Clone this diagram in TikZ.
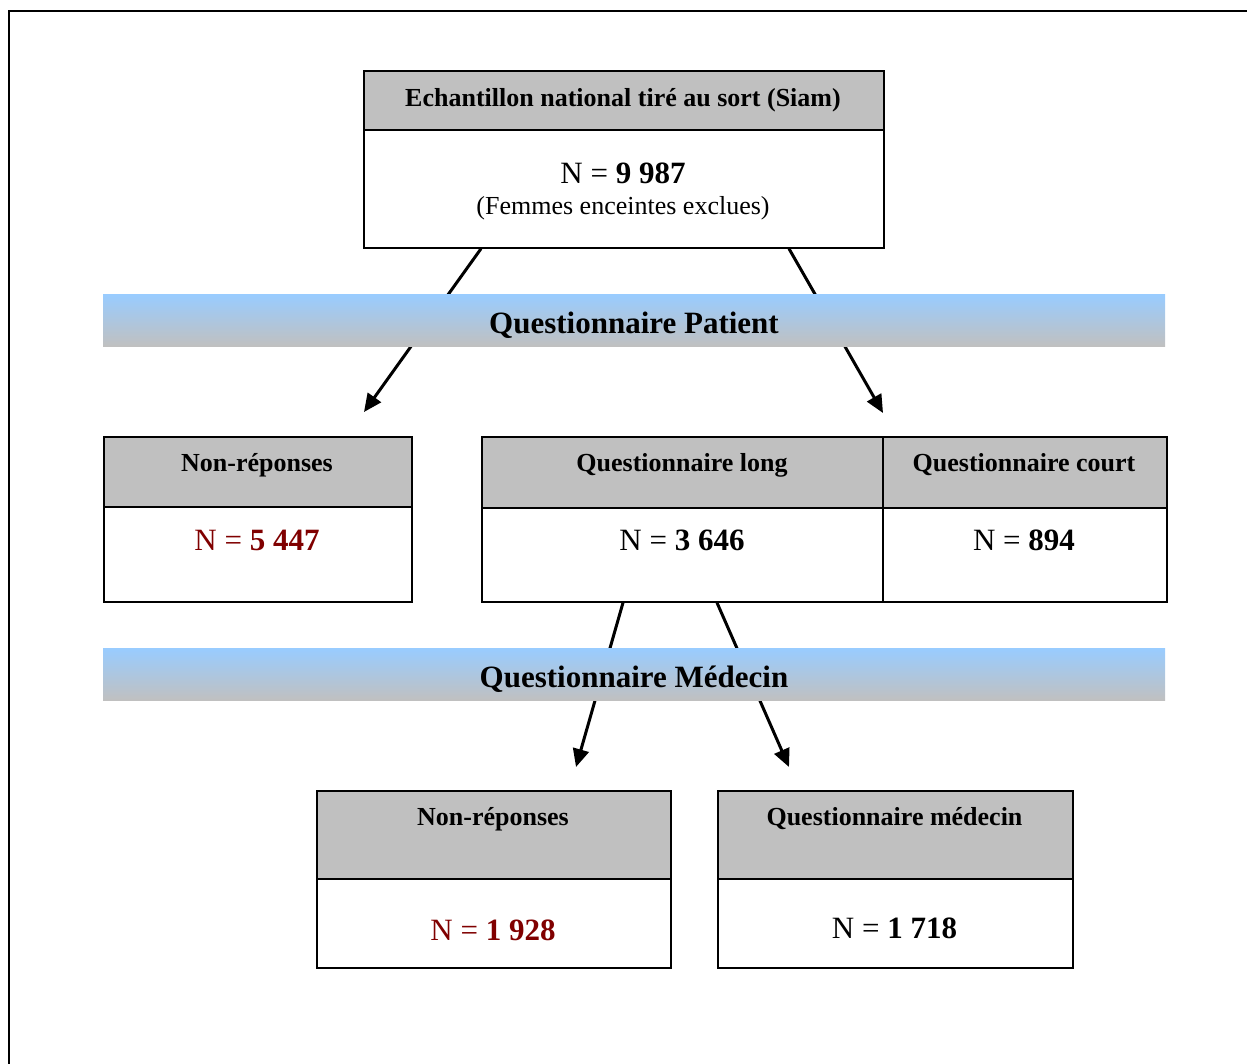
\documentclass[tikz,border=0pt]{standalone}
\usepackage{fontspec}
\setmainfont{Liberation Serif}
\usetikzlibrary{arrows.meta}
\definecolor{hdrgray}{RGB}{192,192,192}
\definecolor{bannerblue}{RGB}{153,204,255}
\definecolor{numred}{RGB}{128,0,0}
\tikzset{
  hdrbox/.style={draw=black, line width=1.7pt, fill=hdrgray, anchor=north west, inner sep=0pt},
  bodybox/.style={draw=black, line width=1.7pt, fill=white, anchor=north west, inner sep=0pt},
  lbl/.style={font=\fontsize{26}{30}\selectfont\bfseries, inner sep=0pt},
  sublbl/.style={font=\fontsize{26}{30}\selectfont, inner sep=0pt},
  num/.style={font=\fontsize{31}{36}\selectfont, inner sep=0pt},
  banner/.style={top color=bannerblue, bottom color=hdrgray, draw=none, anchor=north west, inner sep=0pt,
     minimum width=1062pt, minimum height=52pt},
  bannertxt/.style={font=\fontsize{31}{36}\selectfont\bfseries, inner sep=0pt},
  arr/.style={line width=3pt, -{Triangle[length=18pt,width=16pt]}},
}
\begin{document}
\begin{tikzpicture}[x=1pt,y=-1pt]
\useasboundingbox (0,0) rectangle (1247,1063);
% outer frame
\draw[line width=2.2pt] (9,1075) -- (9,11) -- (1260,11);

% top box
\node[hdrbox, minimum width=520pt, minimum height=59pt] (topH) at (363,70) {};
\node[bodybox, minimum width=520pt, minimum height=118pt] (topB) at (363,129) {};
\node[lbl] (topT) at (623,100) {Echantillon national tiré au sort (Siam)};
\node[num] (topN) at (623,173) {N = \textbf{9 987}};
\node[sublbl] (topS) at (623,208) {(Femmes enceintes exclues)};

% middle boxes
\node[hdrbox, minimum width=308pt, minimum height=70pt] (nrH) at (103,436) {};
\node[bodybox, minimum width=308pt, minimum height=95pt] (nrB) at (103,506) {};
\node[lbl] (nrT) at (257,465) {Non-réponses};
\node[num, text=numred] (nrN) at (257,540) {N = \textbf{5 447}};

\node[hdrbox, minimum width=401pt, minimum height=71pt] (qlH) at (481,436) {};
\node[bodybox, minimum width=401pt, minimum height=94pt] (qlB) at (481,507) {};
\node[lbl] (qlT) at (682,465) {Questionnaire long};
\node[num] (qlN) at (682,540) {N = \textbf{3 646}};

\node[hdrbox, minimum width=284pt, minimum height=71pt] (qcH) at (882,436) {};
\node[bodybox, minimum width=284pt, minimum height=94pt] (qcB) at (882,507) {};
\node[lbl] (qcT) at (1024,465) {Questionnaire court};
\node[num] (qcN) at (1024,540) {N = \textbf{894}};

% bottom boxes
\node[hdrbox, minimum width=354pt, minimum height=88pt] (blH) at (316,790) {};
\node[bodybox, minimum width=354pt, minimum height=89pt] (blB) at (316,878) {};
\node[lbl] (blT) at (493,819) {Non-réponses};
\node[num, text=numred] (blN) at (493,930) {N = \textbf{1 928}};

\node[hdrbox, minimum width=355pt, minimum height=88pt] (brH) at (717,790) {};
\node[bodybox, minimum width=355pt, minimum height=89pt] (brB) at (717,878) {};
\node[lbl] (brT) at (894.5,819) {Questionnaire médecin};
\node[num] (brN) at (894.5,928) {N = \textbf{1 718}};

% arrow ends
\coordinate (e1) at (364,412);
\coordinate (e2) at (883,413);
\coordinate (e3) at (576,767);
\coordinate (e4) at (789,767);

% arrows
\draw[arr] ([xshift=118pt]topB.south west) -- (e1);
\draw[arr] ([xshift=426pt]topB.south west) -- (e2);
\draw[arr] ([xshift=142pt]qlB.south west) -- (e3);
\draw[arr] ([xshift=236pt]qlB.south west) -- (e4);

% banners
\node[banner] (b1) at (103,294) {};
\node[bannertxt] (b1t) at (634,325) {Questionnaire Patient};
\node[banner] (b2) at (103,648) {};
\node[bannertxt] (b2t) at (634,679) {Questionnaire Médecin};
\end{tikzpicture}
\end{document}
